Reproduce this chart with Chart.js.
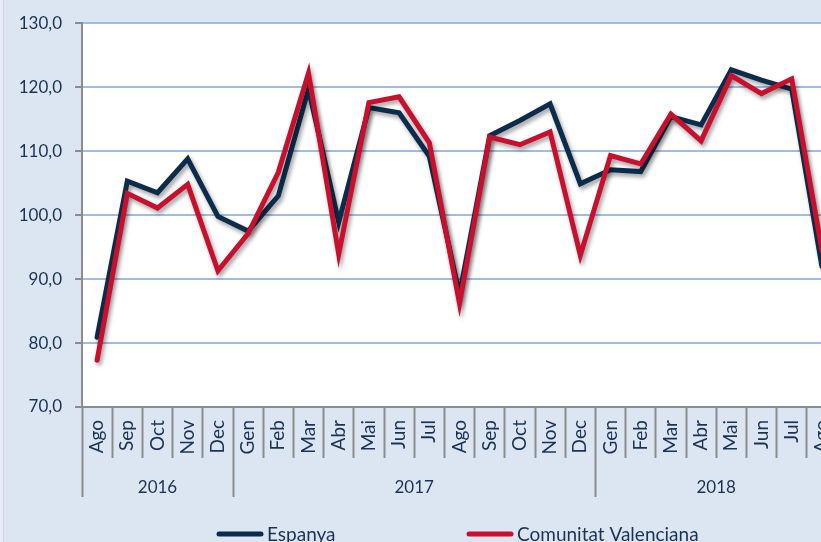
<!DOCTYPE html>
<html>
<head>
<meta charset="utf-8">
<script src="https://cdn.jsdelivr.net/npm/chart.js@4.4.1/dist/chart.umd.min.js"></script>
<style>
  html, body { margin: 0; padding: 0; overflow: hidden; background: #dce6f2; }
  #wrap { position: relative; width: 821px; height: 542px; overflow: hidden; }
  #edge { position: absolute; left: 0; top: 0; width: 3px; height: 542px; background: #e6edf6; border-right: 1px solid #c9d5e4; }
  canvas { display: block; }
</style>
</head>
<body>
<div id="wrap">
  <canvas id="chart" width="920" height="542"></canvas>
  <div id="edge"></div>
</div>
<script>
// Months (Aug 2016 - Aug 2018) and year groups
const months = ['Ago', 'Sep', 'Oct', 'Nov', 'Dec',
  'Gen', 'Feb', 'Mar', 'Abr', 'Mai', 'Jun', 'Jul', 'Ago', 'Sep', 'Oct', 'Nov', 'Dec',
  'Gen', 'Feb', 'Mar', 'Abr', 'Mai', 'Jun', 'Jul', 'Ago'];
const years = ['2016', '2017', '2018'];
const monthsPerYear = [5, 12, 8];

const espanya = [80.9, 105.3, 103.5, 108.8, 99.8,
  97.5, 103.0, 119.7, 98.9, 116.8, 116.0, 109.2, 87.6, 112.4, 114.8, 117.4, 104.9,
  107.1, 106.8, 115.4, 114.1, 122.7, 121.1, 119.7, 92.0];
const comunitat = [77.3, 103.4, 101.1, 104.8, 91.3,
  97.1, 106.7, 122.2, 93.9, 117.6, 118.5, 111.3, 86.2, 112.2, 111.0, 113.0, 93.7,
  109.3, 108.0, 115.8, 111.6, 121.8, 119.0, 121.3, 94.5];

const yTicks = [70, 80, 90, 100, 110, 120, 130];

const textColor = '#1a3354';
const axisGray = '#8c8c8c';

// year axis ticks: group boundaries + centred year labels
function yearTicks() {
    const ticks = [];
    let start = 0;
    monthsPerYear.forEach((n, i) => {
        ticks.push({ value: start, boundary: true });
        ticks.push({ value: start + n / 2, label: years[i] });
        start += n;
    });
    ticks.push({ value: start, boundary: true });
    return ticks;
}

// white plot area
const plotBg = {
    id: 'plotBg',
    beforeDraw(chart) {
        const { ctx, chartArea: a } = chart;
        ctx.save();
        ctx.fillStyle = '#ffffff';
        ctx.fillRect(a.left, a.top, a.right - a.left, a.bottom - a.top);
        ctx.restore();
    }
};

// soft drop shadow under the lines
const lineShadow = {
    id: 'lineShadow',
    beforeDatasetDraw(chart) {
        const c = chart.ctx;
        c.save();
        c.shadowColor = 'rgba(0, 0, 0, 0.38)';
        c.shadowBlur = 4;
        c.shadowOffsetX = 2;
        c.shadowOffsetY = 3;
    },
    afterDatasetDraw(chart) {
        chart.ctx.restore();
    }
};

// legend drawn as thick line + label
const lineLegend = {
    id: 'lineLegend',
    afterDraw(chart) {
        const ctx = chart.ctx;
        const starts = [217, 467];
        const y = 534;
        ctx.save();
        ctx.font = '19px Lato';
        ctx.textBaseline = 'middle';
        ctx.lineCap = 'round';
        ctx.lineWidth = 5;
        chart.data.datasets.forEach((ds, i) => {
            const x = starts[i];
            ctx.strokeStyle = ds.borderColor;
            ctx.beginPath();
            ctx.moveTo(x + 2, y);
            ctx.lineTo(x + 44, y);
            ctx.stroke();
            ctx.fillStyle = textColor;
            ctx.fillText(ds.label, x + 50, y + 1);
        });
        ctx.restore();
    }
};

function createChart() {
    const ctx = document.getElementById('chart').getContext('2d');
    new Chart(ctx, {
        type: 'line',
        data: {
            labels: months,
            datasets: [{
                label: 'Espanya',
                data: espanya,
                borderColor: '#0b2c4b',
                borderWidth: 5,
                pointRadius: 0,
                tension: 0,
                borderJoinStyle: 'miter',
                borderCapStyle: 'round',
                order: 1
            }, {
                label: 'Comunitat Valenciana',
                data: comunitat,
                borderColor: '#c8102e',
                borderWidth: 5,
                pointRadius: 0,
                tension: 0,
                borderJoinStyle: 'miter',
                borderCapStyle: 'round',
                order: 0
            }]
        },
        options: {
            responsive: false,
            animation: false,
            devicePixelRatio: 1,
            layout: { padding: { top: 22, right: 83, bottom: 0, left: 0 } },
            plugins: {
                legend: { display: false },
                tooltip: { enabled: false }
            },
            scales: {
                x: {
                    type: 'category',
                    position: 'bottom',
                    offset: true,
                    afterFit: (s) => { s.height = 51; },
                    grid: {
                        offset: true,
                        drawOnChartArea: false,
                        drawTicks: true,
                        tickLength: 51,
                        tickColor: axisGray,
                        tickWidth: 2
                    },
                    border: { color: axisGray, width: 2 },
                    ticks: {
                        autoSkip: false,
                        minRotation: 90,
                        maxRotation: 90,
                        padding: -38,
                        color: textColor,
                        font: { family: 'Lato', size: 19 }
                    }
                },
                years: {
                    type: 'linear',
                    position: 'bottom',
                    min: 0,
                    max: months.length,
                    afterBuildTicks: (s) => { s.ticks = yearTicks(); },
                    afterFit: (s) => { s.height = 84; },
                    grid: {
                        drawOnChartArea: false,
                        drawTicks: true,
                        tickLength: 39,
                        tickWidth: 2,
                        tickColor: (c) => (c.tick && c.tick.boundary) ? axisGray : 'rgba(0,0,0,0)'
                    },
                    border: { display: false },
                    ticks: {
                        autoSkip: false,
                        maxRotation: 0,
                        padding: -20,
                        color: textColor,
                        font: { family: 'Lato', size: 17 },
                        callback: (v, i, ticks) => ticks[i].label || ''
                    }
                },
                y: {
                    min: 70,
                    max: 130,
                    afterFit: (s) => { s.width = 82; },
                    afterBuildTicks: (s) => { s.ticks = yTicks.map(v => ({ value: v })); },
                    grid: {
                        color: (c) => c.tick && c.tick.value === 70 ? 'rgba(0,0,0,0)' : '#a3bcdc',
                        lineWidth: 2,
                        tickLength: 7,
                        tickColor: axisGray,
                        tickWidth: 2
                    },
                    border: { color: axisGray, width: 2 },
                    ticks: {
                        padding: 13,
                        color: textColor,
                        font: { family: 'Lato', size: 17 },
                        callback: (v) => v.toFixed(1).replace('.', ',')
                    }
                }
            }
        },
        plugins: [plotBg, lineShadow, lineLegend]
    });
}

document.addEventListener('DOMContentLoaded', () => {
    createChart();
});
</script>
</body>
</html>
